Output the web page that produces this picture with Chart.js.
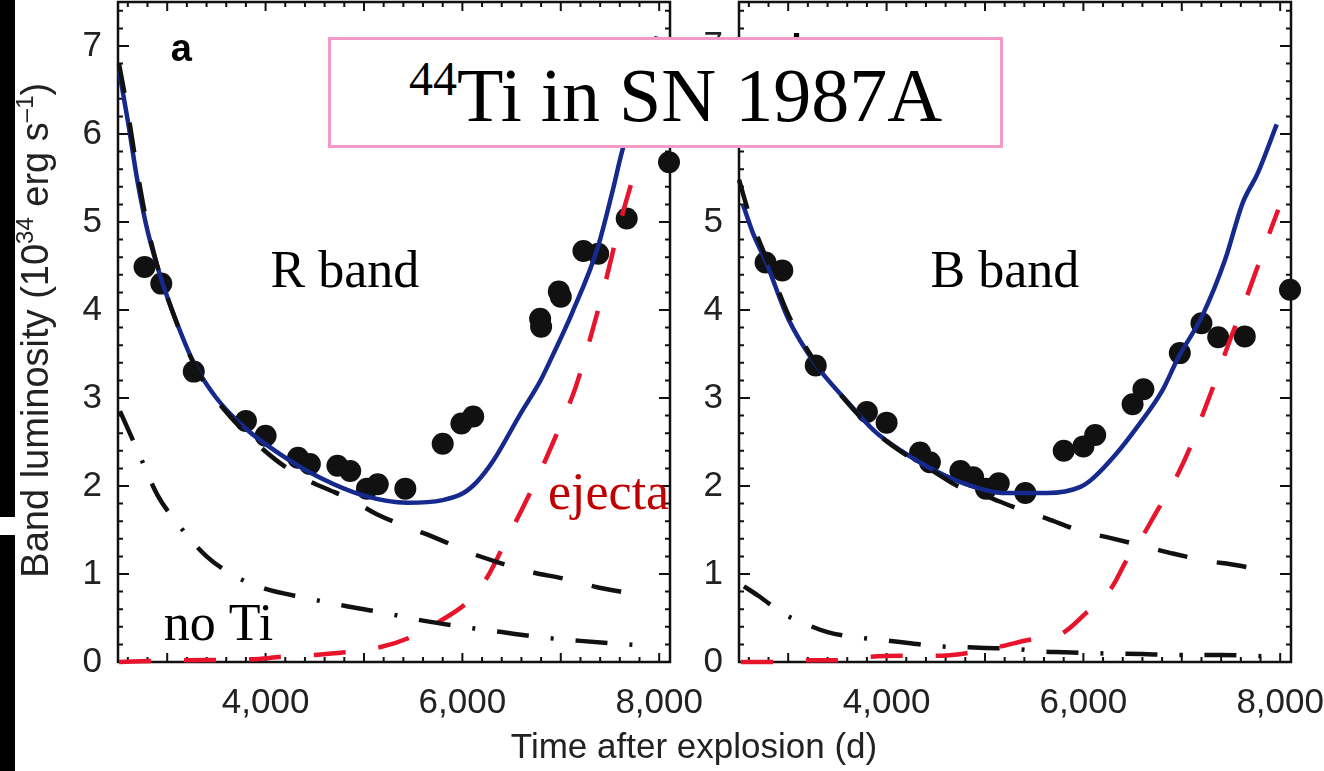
<!DOCTYPE html>
<html>
<head>
<meta charset="utf-8">
<title>44Ti in SN 1987A</title>
<script src="https://cdn.jsdelivr.net/npm/chart.js@4.4.1/dist/chart.umd.min.js"></script>
<style>
  html, body { margin: 0; padding: 0; background: #fff; width: 1324px; height: 771px; overflow: hidden; }
  #stage { position: relative; width: 1324px; height: 771px; overflow: hidden; }
  #stage canvas { position: absolute; top: 0; }
  #chartR { left: 0; }
  #chartB { left: 621px; }
  .strip { position: absolute; left: 0; width: 15px; background: #000; }
  #xTitle { position: absolute; left: 444px; top: 728px; width: 500px; text-align: center;
    font: 35px 'Liberation Sans', Arial, sans-serif; line-height: 35px; color: #222; }
  #titleBox { position: absolute; left: 328px; top: 37px; width: 675px; height: 111px; box-sizing: border-box;
    border: 3px solid #f49ac8; background: #fff; }
  #titleText { position: absolute; left: 78px; top: 17px; white-space: nowrap;
    font: 76px 'Liberation Serif', 'Times New Roman', serif; line-height: 76px; color: #000; }
  #titleText span { font-size: 48px; position: relative; top: -26px; line-height: 0; }
</style>
</head>
<body>
<div id="stage">
  <div class="strip" style="top:0;height:517px"></div>
  <div class="strip" style="top:535px;height:236px"></div>
  <canvas id="chartR" width="740" height="771"></canvas>
  <canvas id="chartB" width="740" height="771"></canvas>
  <div id="xTitle">Time after explosion (d)</div>
  <div id="titleBox"><div id="titleText"><span>44</span>Ti in SN 1987A</div></div>
</div>
<script>
// axis setup
var xMin = 2500, xMax = 8110;
var yMin = 0, yMax = 7.5;
var xTickVals = [4000, 6000, 8000];
var yTickVals = [0, 1, 2, 3, 4, 5, 6, 7];

// R band (panel a)
var rDotDays = [2770, 2940, 3270, 3800, 4000, 4330, 4450, 4730, 4860, 5030, 5140, 5420, 5800, 5990, 6110, 6790, 6800, 6980, 7000, 7230, 7380, 7670, 8100];
var rDotLum = [4.49, 4.30, 3.30, 2.74, 2.57, 2.32, 2.25, 2.23, 2.17, 1.97, 2.02, 1.97, 2.48, 2.71, 2.79, 3.90, 3.81, 4.21, 4.15, 4.67, 4.64, 5.04, 5.68];
var rFitDays = [2510, 2600, 2700, 2800, 2940, 3100, 3270, 3500, 3800, 4150, 4560, 5000, 5440, 5800, 6010, 6150, 6310, 6590, 6790, 6920, 7120, 7370, 7530, 7620, 7800, 7976];
var rFitLum = [6.72, 6.15, 5.45, 4.9, 4.35, 3.85, 3.4, 3.0, 2.65, 2.36, 2.09, 1.89, 1.81, 1.84, 1.92, 2.05, 2.28, 2.82, 3.19, 3.49, 3.98, 4.69, 5.37, 5.79, 6.46, 7.11];
var rRingDays = [2510, 2600, 2700, 2800, 2900, 3000, 3150, 3300, 3500, 3800, 4100, 4400, 4700, 4860, 5130, 5450, 5750, 6080, 6370, 6710, 7020, 7370, 7650];
var rRingLum = [6.8, 6.25, 5.55, 4.95, 4.5, 4.15, 3.7, 3.32, 2.98, 2.6, 2.3, 2.08, 1.93, 1.85, 1.68, 1.53, 1.40, 1.24, 1.13, 1.02, 0.95, 0.85, 0.79];
var rNoTiDays = [2520, 2700, 2900, 3100, 3400, 3700, 4000, 4400, 4800, 5200, 5600, 6000, 6400, 6800, 7200, 7800];
var rNoTiLum = [2.85, 2.4, 1.9, 1.58, 1.2, 0.97, 0.83, 0.73, 0.64, 0.56, 0.47, 0.40, 0.34, 0.28, 0.24, 0.19];
var rEjectaDays = [2510, 3170, 3850, 4170, 4500, 4800, 5170, 5470, 5780, 6050, 6250, 6400, 6550, 6700, 6850, 7000, 7150, 7300, 7450, 7600, 7720];
var rEjectaLum = [0, 0.02, 0.03, 0.06, 0.08, 0.11, 0.17, 0.28, 0.47, 0.68, 0.96, 1.28, 1.61, 1.95, 2.31, 2.70, 3.12, 3.68, 4.3, 4.98, 5.45];

// B band (panel b)
var bDotDays = [2770, 2940, 3280, 3800, 4000, 4340, 4440, 4750, 4880, 5010, 5140, 5410, 5800, 6000, 6120, 6500, 6610, 6980, 7200, 7370, 7640, 8100];
var bDotLum = [4.54, 4.45, 3.37, 2.84, 2.72, 2.38, 2.27, 2.17, 2.10, 1.97, 2.03, 1.92, 2.40, 2.45, 2.58, 2.93, 3.10, 3.51, 3.85, 3.69, 3.70, 4.23];
var bFitDays = [2540, 2650, 2773, 3000, 3280, 3600, 3880, 4150, 4500, 4810, 5200, 5630, 5970, 6100, 6330, 6540, 6800, 6960, 7215, 7440, 7620, 7770, 7965];
var bFitLum = [5.2, 4.85, 4.55, 3.9, 3.38, 2.96, 2.62, 2.40, 2.17, 2.02, 1.92, 1.92, 1.99, 2.09, 2.36, 2.66, 3.08, 3.45, 3.95, 4.57, 5.22, 5.55, 6.11];
var bRingDays = [2500, 2600, 2700, 2773, 3000, 3280, 3600, 3900, 4200, 4500, 4720, 5000, 5340, 5630, 5970, 6270, 6600, 6920, 7250, 7560, 7940];
var bRingLum = [5.48, 5.1, 4.8, 4.6, 3.95, 3.4, 2.95, 2.6, 2.35, 2.15, 2.0, 1.89, 1.74, 1.63, 1.49, 1.41, 1.32, 1.23, 1.15, 1.10, 1.01];
var bNoTiDays = [2550, 2700, 2950, 3160, 3400, 3700, 3960, 4200, 4500, 4750, 5000, 5300, 5550, 5800, 6100, 6600, 6900, 7400, 7700, 7950];
var bNoTiLum = [0.86, 0.75, 0.55, 0.44, 0.34, 0.28, 0.25, 0.22, 0.18, 0.17, 0.16, 0.15, 0.12, 0.11, 0.10, 0.09, 0.08, 0.08, 0.07, 0.06];
var bEjectaDays = [2520, 2850, 3200, 3500, 3840, 4160, 4500, 4810, 5130, 5440, 5790, 6020, 6290, 6450, 6590, 6730, 6940, 7090, 7215, 7330, 7470, 7660, 7780, 7900, 7980];
var bEjectaLum = [0, 0, 0.02, 0.02, 0.06, 0.07, 0.07, 0.10, 0.17, 0.25, 0.33, 0.55, 0.85, 1.18, 1.41, 1.68, 2.09, 2.45, 2.82, 3.16, 3.6, 4.15, 4.52, 4.9, 5.14];

var sansFont = "'Liberation Sans', Arial, sans-serif";
var serifFont = "'Liberation Serif', 'Times New Roman', serif";
var blue = '#16298c';
var red = '#e8142c';

function pairs(xs, ys) {
  return xs.map(function(x, i) { return {x: x, y: ys[i]}; });
}

function lineSet(xs, ys, color, dash) {
  return {
    type: 'line',
    data: pairs(xs, ys),
    borderColor: color,
    borderWidth: 4.5,
    borderDash: dash,
    borderCapStyle: 'butt',
    pointRadius: 0,
    cubicInterpolationMode: 'monotone',
    fill: false,
    clip: false
  };
}

// frame + inward ticks on all four sides
var frameTicks = {
  id: 'frameTicks',
  beforeDatasetsDraw: function(chart) {
    var ctx = chart.ctx, a = chart.chartArea;
    var xs = chart.scales.x, ys = chart.scales.y;
    ctx.save();
    ctx.strokeStyle = '#111';
    ctx.lineWidth = 2.5;
    ctx.strokeRect(a.left, a.top, a.right - a.left, a.bottom - a.top);
    ctx.lineWidth = 2;
    ctx.beginPath();
    for (var d = 2600; d <= xMax; d += 200) {
      var px = xs.getPixelForValue(d);
      var len = d % 1000 === 0 ? 9 : 5;
      ctx.moveTo(px, a.bottom); ctx.lineTo(px, a.bottom - len);
      ctx.moveTo(px, a.top); ctx.lineTo(px, a.top + len);
    }
    for (var k = 1; k <= 37; k++) {
      var v = k * 0.2;
      var py = ys.getPixelForValue(v);
      var ylen = k % 5 === 0 ? 11 : 5;
      ctx.moveTo(a.left, py); ctx.lineTo(a.left + ylen, py);
      ctx.moveTo(a.right, py); ctx.lineTo(a.right - ylen, py);
    }
    ctx.stroke();
    ctx.restore();
  }
};

// text labels placed in data coordinates
var panelText = {
  id: 'panelText',
  afterDatasetsDraw: function(chart, args, opts) {
    var ctx = chart.ctx;
    ctx.save();
    (opts.items || []).forEach(function(t) {
      ctx.font = t.font;
      ctx.fillStyle = t.color || '#000';
      ctx.textAlign = 'left';
      ctx.textBaseline = 'alphabetic';
      ctx.fillText(t.text, chart.scales.x.getPixelForValue(t.x), chart.scales.y.getPixelForValue(t.y));
    });
    if (opts.yTitle) {
      // rotated y title with superscripts
      var parts = [['Band luminosity (10', 0], ['34', 1], [' erg s', 0], ['\u20131', 1], [')', 0]];
      var big = '38px ' + sansFont, small = '24px ' + sansFont;
      var total = 0;
      parts.forEach(function(p) { ctx.font = p[1] ? small : big; total += ctx.measureText(p[0]).width; });
      var mid = chart.scales.y.getPixelForValue(3.77);
      ctx.translate(48, mid);
      ctx.rotate(-Math.PI / 2);
      ctx.fillStyle = '#222';
      ctx.textAlign = 'left';
      ctx.textBaseline = 'alphabetic';
      var u = -total / 2;
      parts.forEach(function(p) {
        ctx.font = p[1] ? small : big;
        ctx.fillText(p[0], u, p[1] ? -15 : 0);
        u += ctx.measureText(p[0]).width;
      });
    }
    ctx.restore();
  }
};

function makePanel(canvas, sets, items, yTitle) {
  return new Chart(canvas.getContext('2d'), {
    type: 'scatter',
    data: {
      datasets: [
        lineSet(sets.ringX, sets.ringY, '#111', [30, 30]),
        lineSet(sets.noTiX, sets.noTiY, '#111', [32, 22, 3, 22]),
        lineSet(sets.ejX, sets.ejY, red, [32, 33]),
        lineSet(sets.fitX, sets.fitY, blue, []),
        {
          type: 'scatter',
          data: pairs(sets.dotX, sets.dotY),
          pointRadius: 11,
          pointBackgroundColor: '#111',
          pointBorderWidth: 0,
          clip: false
        }
      ]
    },
    options: {
      responsive: false,
      devicePixelRatio: 1,
      animation: false,
      events: [],
      layout: { padding: { left: 0, right: 70, top: 2, bottom: 0 } },
      plugins: {
        legend: { display: false },
        tooltip: { enabled: false },
        panelText: { items: items, yTitle: yTitle }
      },
      scales: {
        x: {
          type: 'linear',
          min: xMin,
          max: xMax,
          grid: { display: false, drawTicks: false },
          border: { display: false },
          afterBuildTicks: function(s) { s.ticks = xTickVals.map(function(v) { return {value: v}; }); },
          afterFit: function(s) { s.height = 109; s.paddingLeft = 0; s.paddingRight = 0; },
          ticks: {
            autoSkip: false,
            maxRotation: 0,
            padding: 20,
            color: '#222',
            font: { family: sansFont, size: 35 },
            callback: function(v) { return v.toLocaleString('en-US'); }
          }
        },
        y: {
          min: yMin,
          max: yMax,
          grid: { display: false, drawTicks: false },
          border: { display: false },
          afterBuildTicks: function(s) { s.ticks = yTickVals.map(function(v) { return {value: v}; }); },
          afterFit: function(s) { s.width = 118; s.paddingTop = 0; s.paddingBottom = 0; },
          ticks: {
            autoSkip: false,
            padding: 16,
            color: '#222',
            font: { family: sansFont, size: 35 }
          }
        }
      }
    },
    plugins: [frameTicks, panelText]
  });
}

// build a panel, then size and shift its canvas so the plot box sits at y 2..662
function buildPanel(id, sets, items, yTitle) {
  var canvas = document.getElementById(id);
  var chart = makePanel(canvas, sets, items, yTitle);
  var a = chart.chartArea;
  var need = Math.round(660 - (a.bottom - a.top));
  if (need !== 0) {
    chart.destroy();
    canvas.height = canvas.height + need;
    chart = makePanel(canvas, sets, items, yTitle);
  }
  canvas.style.top = (2 - chart.chartArea.top) + 'px';
  return chart;
}

buildPanel('chartR', {
  dotX: rDotDays, dotY: rDotLum, fitX: rFitDays, fitY: rFitLum,
  ringX: rRingDays, ringY: rRingLum, noTiX: rNoTiDays, noTiY: rNoTiLum,
  ejX: rEjectaDays, ejY: rEjectaLum
}, [
  {text: 'a', x: 3037, y: 6.83, font: 'bold 38px ' + sansFont},
  {text: 'R band', x: 4050, y: 4.26, font: '52px ' + serifFont},
  {text: 'ejecta', x: 6870, y: 1.74, font: '52px ' + serifFont, color: '#c00000'},
  {text: 'no Ti', x: 2965, y: 0.25, font: '52px ' + serifFont}
], true);

buildPanel('chartB', {
  dotX: bDotDays, dotY: bDotLum, fitX: bFitDays, fitY: bFitLum,
  ringX: bRingDays, ringY: bRingLum, noTiX: bNoTiDays, noTiY: bNoTiLum,
  ejX: bEjectaDays, ejY: bEjectaLum
}, [
  {text: 'b', x: 3030, y: 6.83, font: 'bold 38px ' + sansFont},
  {text: 'B band', x: 4446, y: 4.26, font: '52px ' + serifFont}
], false);
</script>
</body>
</html>
